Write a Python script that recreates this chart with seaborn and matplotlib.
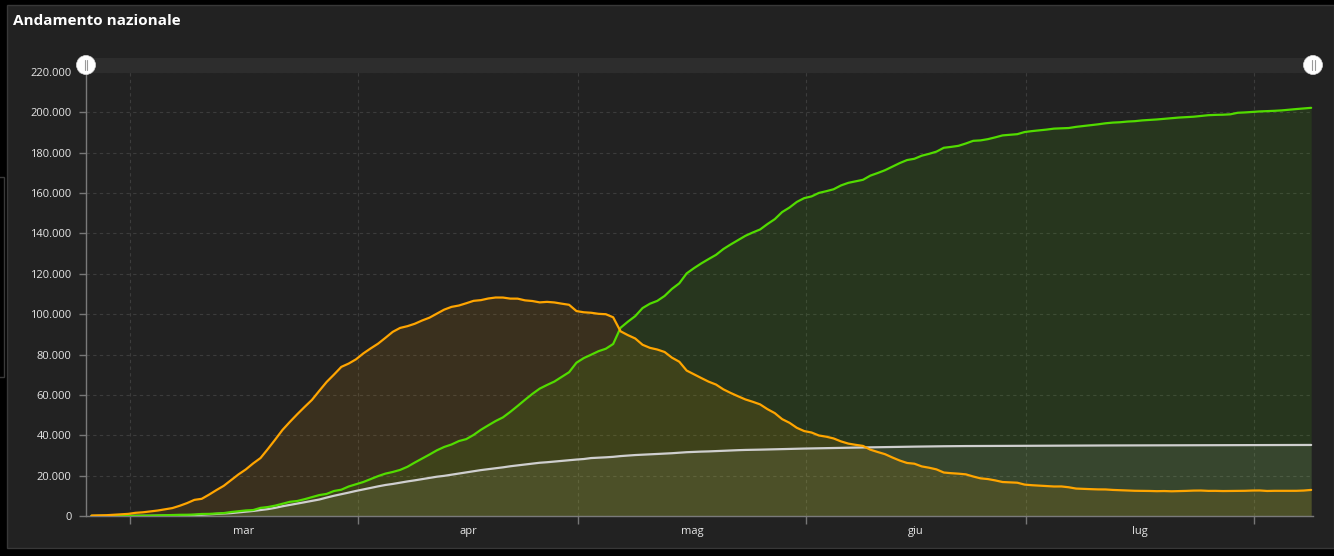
import numpy as np
import pandas as pd
import matplotlib
matplotlib.use("Agg")
import matplotlib.pyplot as plt
import matplotlib.dates as mdates
from matplotlib.patches import Rectangle, Ellipse
from matplotlib.lines import Line2D
from matplotlib.ticker import FuncFormatter, FixedLocator, FixedFormatter, NullFormatter
import seaborn as sns

# ---------------- data ----------------
start_date = "2020-02-24 18:00"

attualmente_positivi = [
    221, 311, 385, 588, 821, 1049,
    1577, 1835, 2263, 2706, 3296, 3916, 5061, 6387, 7985, 8514, 10590, 12839, 14955, 17750,
    20603, 23073, 26062, 28710, 33190, 37860, 42681, 46638, 50418, 54030, 57521, 62013, 66414,
    70065, 73880, 75528, 77635,
    80572, 83049, 85388, 88274, 91246, 93187, 94067, 95262, 96877, 98273, 100269, 102253, 103616,
    104291, 105418, 106607, 106962, 107771, 108257, 108237, 107709, 107699, 106848, 106527, 105847,
    106103, 105813, 105205, 104657, 101551,
    100943, 100704, 100179, 99980, 98467, 91528, 89624, 87961, 84842, 83324, 82488, 81266, 78457,
    76440, 72070, 70187, 68351, 66553, 65129, 62752, 60960, 59322, 57752, 56594, 55300, 52942,
    50966, 47986, 46175, 43691, 42075,
    41367, 39893, 39297, 38429, 36976, 35877, 35262, 34730, 32872, 31710, 30637, 28997, 27485,
    26274, 25909, 24569, 23925, 23101, 21543, 21212, 20972, 20637, 19573, 18655, 18303, 17638,
    16836, 16681, 16496, 15563,
    15255, 15060, 14884, 14621, 14642, 14242, 13595, 13428, 13303, 13179, 13157, 12919, 12770,
    12581, 12493, 12456, 12404, 12301, 12368, 12248, 12322, 12440, 12581, 12616, 12442, 12456,
    12368, 12404, 12457, 12482, 12609,
    12646, 12401, 12474, 12456, 12474, 12482, 12616, 12924,
]

dimessi_guariti = [
    1, 1, 3, 45, 46, 50,
    83, 149, 160, 276, 414, 523, 589, 622, 724, 1004, 1045, 1258, 1439, 1966, 2335, 2749, 2941,
    4025, 4440, 5129, 6072, 7024, 7432, 8326, 9362, 10361, 10950, 12384, 13030, 14620, 15729,
    16847, 18278, 19758, 20996, 21815, 22837, 24392, 26491, 28470, 30455, 32534, 34211, 35435,
    37130, 38092, 40164, 42727, 44927, 47055, 48877, 51600, 54543, 57576, 60498, 63120, 64928,
    66624, 68941, 71252, 75945,
    78249, 79914, 81654, 82879, 85231, 93245, 96276, 99023, 103031, 105186, 106587, 109039,
    112541, 115288, 120205, 122810, 125176, 127326, 129401, 132282, 134560, 136720, 138840,
    140479, 141981, 144658, 147101, 150604, 152844, 155633, 157507,
    158355, 160092, 160938, 161895, 163781, 165078, 165837, 166584, 168646, 169939, 171338,
    173085, 174865, 176370, 177010, 178526, 179455, 180544, 182453, 182893, 183426, 184585,
    185894, 186111, 186725, 187615, 188584, 188891, 189196, 190248,
    190717, 191083, 191467, 191944, 192108, 192241, 192815, 193217, 193640, 194073, 194579,
    194928, 195106, 195441, 195633, 196016, 196246, 196483, 196806, 197162, 197431, 197628,
    197842, 198192, 198593, 198756, 198839, 199031, 199796, 199974, 200229,
    200460, 200589, 200766, 200976, 201323, 201642, 201947, 202248,
]

deceduti = [
    7, 10, 12, 17, 21, 29,
    34, 52, 79, 107, 148, 197, 233, 366, 463, 631, 827, 1016, 1266, 1441, 1809, 2158, 2503,
    2978, 3405, 4032, 4825, 5476, 6077, 6820, 7503, 8165, 9134, 10023, 10779, 11591, 12428,
    13155, 13915, 14681, 15362, 15887, 16523, 17127, 17669, 18279, 18849, 19468, 19899, 20465,
    21067, 21645, 22170, 22745, 23227, 23660, 24114, 24648, 25085, 25549, 25969, 26384, 26644,
    26977, 27359, 27682, 27967,
    28236, 28710, 28884, 29079, 29315, 29684, 29958, 30201, 30395, 30560, 30739, 30911, 31106,
    31368, 31610, 31763, 31908, 32007, 32169, 32330, 32486, 32616, 32735, 32785, 32877, 32955,
    33072, 33142, 33229, 33340, 33415,
    33475, 33530, 33601, 33689, 33774, 33846, 33899, 33964, 34043, 34114, 34167, 34223, 34301,
    34345, 34371, 34405, 34448, 34514, 34561, 34610, 34634, 34657, 34675, 34644, 34678, 34708,
    34716, 34738, 34744, 34767,
    34788, 34818, 34833, 34854, 34861, 34869, 34899, 34914, 34926, 34938, 34945, 34954, 34967,
    34984, 34997, 35017, 35028, 35042, 35045, 35058, 35073, 35082, 35092, 35097, 35102, 35107,
    35112, 35123, 35129, 35132, 35141,
    35146, 35154, 35166, 35171, 35181, 35187, 35190, 35203,
]

month_labels = ["mar", "apr", "mag", "giu", "lug"]
month_starts = ["2020-03-01", "2020-04-01", "2020-05-01", "2020-06-01", "2020-07-01", "2020-08-01"]
y_ticks = [0, 20000, 40000, 60000, 80000, 100000, 120000, 140000, 160000, 180000, 200000, 220000]
title = "Andamento nazionale"

# ---------------- style ----------------
W, H = 1334, 556
sns.set_theme(style="dark")
plt.rcParams["font.family"] = ["Open Sans", "DejaVu Sans"]

C_ORANGE = "#ffa500"
C_GREEN = "#52dc00"
C_WHITE = "#cfcfcf"
BG = "#222222"

n = len(attualmente_positivi)
dates = pd.date_range(start_date, periods=n, freq="D")
df = pd.DataFrame({
    "data": dates,
    "positivi": attualmente_positivi,
    "guariti": dimessi_guariti,
    "deceduti": deceduti,
})

fig = plt.figure(figsize=(W / 100, H / 100), dpi=100, facecolor="black")

# panel background
fig.add_artist(Rectangle((7 / W, (H - 548) / H), (W - 7) / W, (548 - 5) / H,
                         transform=fig.transFigure, facecolor=BG, edgecolor="#383838",
                         lw=1.0, zorder=-2))
# small side box at far left
fig.add_artist(Rectangle((-2 / W, (H - 377) / H), 6 / W, 200 / H,
                         transform=fig.transFigure, facecolor="none", edgecolor="#3a3a3a",
                         lw=1.0, zorder=-1))

ax = fig.add_axes([86 / W, (H - 516) / H, (1313 - 86) / W, (516 - 72) / H])
ax.set_facecolor(BG)

series = [("deceduti", C_WHITE), ("guariti", C_GREEN), ("positivi", C_ORANGE)]
for col, color in series:
    ax.fill_between(df["data"], df[col], 0, color=color, alpha=0.11, lw=0, zorder=2)
for col, color in series:
    sns.lineplot(data=df, x="data", y=col, ax=ax, color=color, lw=1.6, zorder=3)

ax.set_xlim(pd.Timestamp("2020-02-24"), pd.Timestamp("2020-08-09"))
ax.set_ylim(0, 220000)
ax.set_xlabel("")
ax.set_ylabel("")

# x ticks: month starts (major, gridlines), labels mid-month (minor)
ms = pd.to_datetime(month_starts)
ax.xaxis.set_major_locator(FixedLocator(mdates.date2num(ms)))
ax.xaxis.set_major_formatter(NullFormatter())
mids = [ms[i] + (ms[i + 1] - ms[i]) / 2 for i in range(len(month_labels))]
ax.xaxis.set_minor_locator(FixedLocator(mdates.date2num(mids)))
ax.xaxis.set_minor_formatter(FixedFormatter(month_labels))
ax.tick_params(axis="x", which="major", length=6, width=1, color="#777777", direction="out", bottom=True)
ax.tick_params(axis="x", which="minor", length=0, labelsize=8, labelcolor="#e6e6e6", pad=7, bottom=True)

ax.yaxis.set_major_locator(FixedLocator(y_ticks))
ax.yaxis.set_major_formatter(FuncFormatter(lambda v, p: f"{int(v):,}".replace(",", ".")))
ax.tick_params(axis="y", which="major", length=5, width=1, color="#777777", direction="out",
               labelsize=8, labelcolor="#e6e6e6", pad=5.5, left=True)

ax.grid(True, which="major", axis="both", color="#3c3c3c", linestyle=(0, (3, 3)), lw=0.8)
ax.set_axisbelow(True)
for s in ["top", "right"]:
    ax.spines[s].set_visible(False)
for s in ["left", "bottom"]:
    ax.spines[s].set_visible(True)
    ax.spines[s].set_color("#7a7a7a")
    ax.spines[s].set_linewidth(1.0)

# slider bar with handles
fig.add_artist(Rectangle((86 / W, (H - 73) / H), (1313 - 86) / W, 15 / H,
                         transform=fig.transFigure, facecolor="#2d2d2d", edgecolor="none", zorder=1))
for cx in (86, 1313):
    fig.add_artist(Ellipse((cx / W, (H - 65) / H), 19 / W, 19 / H, transform=fig.transFigure,
                           facecolor="white", edgecolor="#dddddd", lw=0.5, zorder=5))
    for dx in (-1.5, 1.5):
        fig.add_artist(Line2D([(cx + dx) / W, (cx + dx) / W], [(H - 60) / H, (H - 70) / H],
                              transform=fig.transFigure, color="#9a9a9a", lw=0.8, zorder=6))

fig.text(13 / W, 1 - 21 / H, title, ha="left", va="center", fontsize=11,
         fontweight="bold", color="white")

fig.savefig("out.png", dpi=100, facecolor="black")
